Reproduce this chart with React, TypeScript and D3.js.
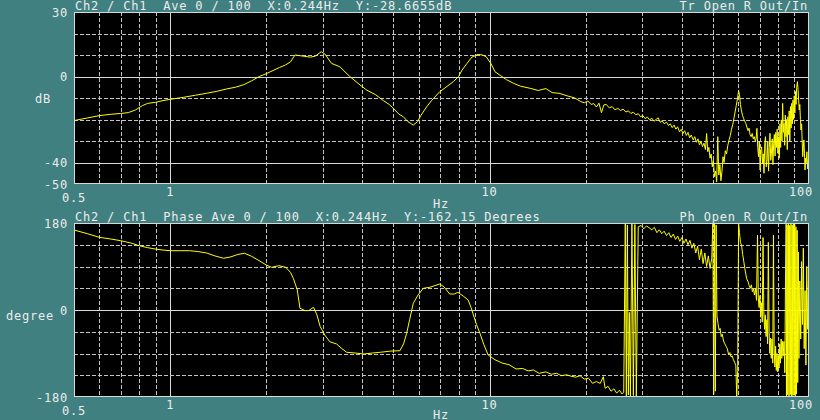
import React from 'react';
import * as d3 from 'd3';

// magnitude (dB) readings, [Hz, dB]
const magSmooth: [number, number][] = [
  [0.5, -20.5], [0.55, -19.3], [0.6, -18.2], [0.65, -17.6], [0.7, -17.2], [0.74, -16.8],
  [0.78, -15.5], [0.82, -13.5], [0.85, -12.5], [0.9, -12], [0.95, -11.2], [1.0, -10.6],
  [1.1, -9.7], [1.2, -8.7], [1.3, -7.8], [1.4, -6.9], [1.5, -5.8], [1.6, -5], [1.7, -3.8],
  [1.8, -2], [1.9, 0], [2.0, 1.3], [2.1, 2.8], [2.2, 4.2], [2.3, 5.4], [2.38, 6.8],
  [2.46, 10], [2.6, 9.5], [2.75, 9.0], [2.85, 9.5], [2.97, 11.5], [3.05, 10.5], [3.2, 6.1],
  [3.4, 4.5], [3.65, 0], [3.9, -3.5], [4.12, -6.3], [4.4, -8.5], [4.65, -11.2], [4.85, -13],
  [5.06, -15.6], [5.2, -17.5], [5.37, -18.7], [5.55, -21], [5.77, -22.6], [5.95, -21],
  [6.1, -18], [6.36, -14], [6.6, -11], [6.98, -7.1], [7.3, -5], [7.7, -2.4], [8.0, 0],
  [8.2, 3], [8.5, 6.1], [8.8, 9], [9.2, 10.3], [9.5, 10], [9.76, 9.2], [10.1, 6], [10.4, 2.2],
  [10.8, 0.5], [11.3, -1.5], [11.9, -3.2], [12.5, -4.5], [13.4, -5.5], [14.2, -6.5],
  [15.0, -5.6], [15.7, -7.5], [16.5, -7.8], [17.5, -9], [18.5, -10],
];

const magNoisy: [number, number][] = [
  [19.3, -11.7], [19.8, -12.2], [20.3, -11.4], [20.8, -13.0], [21.2, -12.6], [21.6, -14.2],
  [22.0, -12.4], [22.4, -16.8], [22.8, -13.2], [23.2, -13.0], [23.7, -14.6], [24.2, -14.0],
  [24.7, -15.5], [25.2, -14.8], [25.7, -15.8], [26.2, -15.2], [26.7, -16.5], [27.2, -16.0],
  [27.7, -17.2], [28.2, -16.6], [28.7, -17.8], [29.2, -17.3], [29.7, -18.7], [30.2, -18.2],
  [30.7, -19.6], [31.2, -18.9], [31.7, -20.2], [32.2, -19.4], [32.7, -20.8], [33.2, -20.0],
  [33.7, -19.2], [34.2, -21.3], [34.7, -20.6], [35.2, -22.0], [35.8, -21.2], [36.3, -22.8],
  [36.8, -22.0], [37.3, -23.8], [37.8, -22.6], [38.3, -24.5], [38.8, -23.4], [39.3, -25.7],
  [39.8, -24.6], [40.3, -26.5], [40.8, -25.2], [41.3, -27.4], [41.8, -26.0], [42.3, -28.5],
  [42.8, -27.2], [43.4, -29.5], [43.9, -28.0], [44.4, -30.6], [44.9, -29.0], [45.4, -31.8],
  [45.9, -30.2], [46.4, -32.6], [46.9, -31.0], [47.4, -34.0], [47.8, -26.5], [48.2, -35.0],
  [48.6, -33.0], [49.0, -38.0], [49.4, -36.0], [49.8, -42.0], [50.2, -39.0], [50.6, -46.6],
  [51.0, -44.0], [51.4, -49.0], [51.8, -28.0], [52.2, -45.8], [52.6, -41.0], [53.0, -48.5],
  [53.4, -44.0], [53.8, -37.3], [54.2, -40.0], [54.7, -34.5], [55.2, -36.0], [55.7, -32.0],
  [56.2, -29.5], [56.7, -27.5], [57.2, -24.5], [57.7, -22.5], [58.2, -19.5], [58.7, -16.5],
  [59.2, -13.5], [59.7, -10.5], [60.2, -6.6], [60.6, -8.5], [61.0, -13.0], [61.4, -15.6],
  [61.9, -18.0], [62.4, -19.5], [62.9, -20.8], [63.4, -21.8], [63.9, -23.5], [64.4, -25.2],
  [64.9, -24.0], [65.4, -27.0], [65.9, -28.0], [66.4, -26.5], [66.9, -29.0], [67.4, -28.0],
  [67.9, -30.0], [68.3, -29.0], [68.7, -24.1], [69.1, -33.0], [69.5, -37.3], [69.9, -30.0],
  [70.3, -43.5], [70.7, -34.0], [71.1, -32.7], [71.5, -40.4], [71.9, -36.0], [72.3, -45.0],
  [72.7, -31.0], [73.1, -28.0], [73.5, -42.0], [73.9, -38.8], [74.3, -30.0], [74.7, -44.0],
  [75.1, -33.0], [75.5, -26.4], [75.9, -39.0], [76.3, -35.7], [76.7, -29.0], [77.1, -41.0],
  [77.5, -31.0], [77.9, -27.0], [78.3, -37.0], [78.7, -26.0], [79.1, -33.0], [79.5, -24.5],
  [79.9, -35.7], [80.3, -28.0], [80.7, -38.0], [81.1, -22.0], [81.5, -33.0], [81.9, -20.2],
  [82.3, -30.0], [82.7, -12.5], [83.1, -26.0], [83.5, -21.8], [83.9, -32.0], [84.3, -18.0],
  [84.7, -28.0], [85.1, -20.0], [85.5, -34.0], [85.9, -18.7], [86.3, -27.0], [86.7, -16.0],
  [87.1, -30.0], [87.5, -14.0], [87.9, -24.0], [88.3, -12.5], [88.7, -22.0], [89.1, -11.0],
  [89.5, -20.0], [89.9, -9.0], [90.3, -17.0], [90.7, -7.0], [91.1, -13.0], [91.5, -5.0],
  [92.0, -2.4], [92.4, -6.0], [92.8, -11.0], [93.2, -15.6], [93.6, -13.0], [94.0, -20.0],
  [94.4, -24.9], [94.8, -22.0], [95.2, -30.0], [95.6, -37.3], [96.0, -33.0], [96.4, -29.5],
  [96.8, -36.0], [97.2, -43.5], [97.6, -38.0], [98.0, -40.0], [98.5, -35.0], [99.0, -43.0],
  [99.5, -39.0], [100, -41.0],
];

// phase (degree) readings, [Hz, deg]
const phaseSmooth: [number, number][] = [
  [0.5, 165.5], [0.55, 158], [0.6, 150.4], [0.65, 147], [0.7, 143.4], [0.75, 139], [0.8, 133],
  [0.85, 129], [0.9, 126], [0.95, 124], [1.0, 122.7], [1.08, 122.7], [1.15, 122.7], [1.22, 121],
  [1.3, 118], [1.38, 112], [1.47, 107], [1.55, 110], [1.63, 115], [1.71, 117.3], [1.8, 111],
  [1.9, 102], [2.0, 93], [2.08, 88.3], [2.19, 91.7], [2.3, 88.3], [2.38, 78], [2.43, 65.6],
  [2.5, 41.4], [2.55, 3.5], [2.65, -1.4], [2.72, -1.0], [2.81, 5.6], [2.88, -10], [2.95, -34.5],
  [3.05, -52], [3.16, -65.6], [3.32, -70.4], [3.45, -80], [3.57, -87.5], [3.8, -89], [4.04, -91],
  [4.3, -89], [4.55, -87.5], [4.9, -85], [5.24, -84.2], [5.38, -70], [5.5, -48.2], [5.62, -20],
  [5.77, 13.9], [5.97, 31], [6.2, 44.9], [6.5, 47], [6.98, 53.8], [7.2, 48], [7.5, 33.1],
  [7.75, 33], [7.96, 36.6], [8.3, 28], [8.57, 20.7], [8.75, 5], [8.9, -10.3], [9.1, -30],
  [9.33, -48.2], [9.6, -72], [9.9, -93.1], [10.4, -103], [11.0, -110.3], [11.5, -113],
  [12.1, -122], [12.7, -121], [13.2, -126], [13.7, -124], [14.3, -131], [15.0, -128],
  [15.6, -133], [16.2, -131], [16.8, -136], [17.4, -134], [18.0, -137], [18.6, -139],
  [19.2, -136], [19.8, -143], [20.4, -141], [21.0, -151.7], [21.6, -148], [22.2, -152],
  [22.7, -138], [23.0, -162], [23.5, -158], [24.0, -168], [24.5, -163], [25.0, -172],
  [25.5, -166], [26.0, -174], [26.3, -170],
];

const phaseNoisy: [number, number][] = [
  [26.6, 178], [26.8, -178], [27.0, 176], [27.2, -176], [27.4, -5], [27.6, -178], [27.9, 178],
  [28.2, -177], [28.5, 177], [28.8, -179], [29.2, 172], [29.8, 175], [30.4, 168], [31.0, 174],
  [31.6, 170], [32.2, 166], [32.8, 171], [33.4, 160], [34.0, 166], [34.6, 158], [35.2, 163],
  [35.8, 154], [36.4, 160], [37.0, 150], [37.6, 157], [38.2, 146], [38.8, 153], [39.4, 142],
  [40.0, 150], [40.6, 138], [41.2, 147], [41.8, 135], [42.4, 144], [43.0, 128], [43.6, 138],
  [44.2, 118], [44.8, 132], [45.4, 104], [46.0, 126], [46.6, 96], [47.2, 118], [47.8, 90],
  [48.4, 112], [49.0, 86], [49.6, 107], [50.0, 179], [50.3, -175], [50.6, 178], [50.9, -168],
  [51.2, 176], [51.5, -12], [51.9, -28], [52.3, -42], [52.7, -38], [53.1, -55], [53.5, -50],
  [54.0, -64], [54.5, -70], [55.0, -75], [55.5, -80], [56.0, -92], [56.5, -88], [57.0, -97],
  [57.5, -95], [58.0, -103], [58.5, -108], [59.0, -115], [59.4, -178], [59.8, -125],
  [60.2, 178], [60.6, 160], [61.0, 140], [61.5, 134], [62.0, 115], [62.5, 100], [63.0, 85],
  [63.8, 65], [64.5, 58], [65.0, 50], [65.5, 45], [66.0, 52], [66.5, 38], [67.0, 44],
  [67.5, 31], [68.0, 45], [68.5, 20], [69.0, 155], [69.4, 25], [69.8, 5], [70.2, 30],
  [70.6, -15], [71.0, 15], [71.4, -25], [71.8, 150], [72.2, -3.5], [72.6, -40], [73.0, -10],
  [73.4, -55], [73.8, -20], [74.2, -70], [74.6, 140], [75.0, -45], [75.4, -90], [75.8, -58],
  [76.2, -100], [76.6, -60], [77.0, -110], [77.4, 155], [77.8, -80], [78.2, -118], [78.6, -75],
  [79.0, -125], [79.4, -90], [79.8, -128], [80.2, -95], [80.6, -120], [81.0, -70], [81.4, -110],
  [81.8, -60], [82.2, -100], [82.6, -65], [83.0, -95], [83.5, -65], [84.0, -130], [84.4, 60],
  [84.8, 178], [85.0, -178], [85.4, 176], [85.8, -176], [86.2, 178], [86.6, -179], [87.0, 175],
  [87.4, -175], [87.8, 179], [88.2, -178], [88.6, 176], [89.0, -177], [89.4, 178], [89.8, -176],
  [90.2, 177], [90.6, -178], [91.0, 172], [91.4, -174], [91.8, 165], [92.2, -150], [92.6, 120],
  [93.0, -100], [93.6, 60], [94.2, -60], [94.8, 100], [95.4, -30], [96.0, 128], [96.6, -80],
  [97.2, 40], [97.8, -114], [98.4, 90], [99.0, -40], [99.6, 60], [100, -20],
];

const freqGrid = [0.6, 0.7, 0.8, 0.9, 1, 2, 3, 4, 5, 6, 7, 8, 9, 10, 20, 30, 40, 50, 60, 70, 80, 90];
const freqMajor = [1, 10];
const freqLabels = [
  { f: 0.5, text: '0.5', low: true },
  { f: 1, text: '1', low: false },
  { f: 10, text: '10', low: false },
  { f: 100, text: '100', low: false },
];
const magGrid = [20, 10, 0, -10, -20, -30, -40];
const magMajor = [0, -40];
const magLabels = [30, 0, -40, -50];
const phaseGrid = [135, 90, 45, 0, -45, -90, -135];
const phaseMajor = [0];
const phaseLabels = [180, 0, -180];

const BG = '#408080';
const TXT = '#ececec';
const GRID = '#c4c4c4';
const LINE = '#ffff00';
const FONT = '"DejaVu Sans Mono", monospace';

const X0 = 74;
const X1 = 809;

const x = d3.scaleLog().domain([0.5, 100]).range([X0, X1]);

interface PanelProps {
  id: string;
  top: number;
  bottom: number;
  domain: [number, number];
  grid: number[];
  major: number[];
  labels: number[];
  data: [number, number][];
  header: string;
  rightHeader: string;
  unit: string;
  unitX: number;
  unitBaseline: number;
  hzBaseline: number;
}

const px = (v: number) => Math.round(v) + 0.5;

const Panel: React.FC<PanelProps> = (p) => {
  const y = d3.scaleLinear().domain(p.domain).range([p.bottom, p.top]);
  const line = d3.line<[number, number]>()
    .x(d => x(d[0]))
    .y(d => y(d[1]));
  const textProps = {
    fill: TXT, fontFamily: FONT, fontSize: 12, letterSpacing: 0.8,
    style: { whiteSpace: 'pre' as const },
  };

  return (
    <g>
      <defs>
        <clipPath id={`clip-${p.id}`}>
          <rect x={X0} y={p.top} width={X1 - X0} height={p.bottom - p.top} />
        </clipPath>
      </defs>
      <rect x={X0} y={p.top} width={X1 - X0} height={p.bottom - p.top} fill="#000" />

      {/* vertical grid */}
      {freqGrid.map(f => (
        <line key={`v${f}`} x1={px(x(f))} x2={px(x(f))} y1={p.top} y2={p.bottom}
          stroke={freqMajor.includes(f) ? '#d8d8d8' : GRID}
          strokeDasharray={freqMajor.includes(f) ? undefined : '4,2'}
          shapeRendering="crispEdges" />
      ))}
      {/* horizontal grid */}
      {p.grid.map(v => (
        <line key={`h${v}`} x1={X0} x2={X1} y1={px(y(v))} y2={px(y(v))}
          stroke={p.major.includes(v) ? '#d8d8d8' : GRID}
          strokeDasharray={p.major.includes(v) ? undefined : '4,2'}
          shapeRendering="crispEdges" />
      ))}

      <path d={line(p.data) ?? ''} fill="none" stroke={LINE} strokeWidth={1}
        clipPath={`url(#clip-${p.id})`} />

      <rect x={X0 + 0.5} y={p.top + 0.5} width={X1 - X0 - 1} height={p.bottom - p.top - 1}
        fill="none" stroke="#d8d8d8" shapeRendering="crispEdges" />

      {/* header */}
      <text x={75} y={p.top - 2} {...textProps}>{p.header}</text>
      <text x={808} y={p.top - 2} textAnchor="end" {...textProps}>{p.rightHeader}</text>

      {/* y labels */}
      {p.labels.map(v => (
        <text key={`yl${v}`} x={68} y={y(v) + 4.5} textAnchor="end" {...textProps}>
          {String(v)}
        </text>
      ))}
      <text x={p.unitX} y={p.unitBaseline} {...textProps}>{p.unit}</text>

      {/* x labels */}
      {freqLabels.map(l => (
        <text key={`xl${l.text}`}
          x={l.f === 100 ? 801 : x(l.f)}
          y={p.bottom + (l.low ? 18 : 12)}
          textAnchor="middle" {...textProps}>{l.text}</text>
      ))}
      <text x={441} y={p.hzBaseline} textAnchor="middle" {...textProps}>Hz</text>
    </g>
  );
};

const App: React.FC = () => {
  const magData = [...magSmooth, ...magNoisy];
  const phaseData = [...phaseSmooth, ...phaseNoisy];

  return (
    <svg width={820} height={420} style={{ position: 'absolute', left: 0, top: 0, display: 'block' }}>
      <rect x={0} y={0} width={820} height={420} fill={BG} />
      <Panel
        id="mag" top={12} bottom={184} domain={[-50, 30]}
        grid={magGrid} major={magMajor} labels={magLabels} data={magData}
        header="Ch2 / Ch1  Ave 0 / 100  X:0.244Hz  Y:-28.6655dB"
        rightHeader="Tr Open R Out/In"
        unit="dB" unitX={35} unitBaseline={103} hzBaseline={208}
      />
      <Panel
        id="phase" top={223} bottom={397} domain={[-180, 180]}
        grid={phaseGrid} major={phaseMajor} labels={phaseLabels} data={phaseData}
        header="Ch2 / Ch1  Phase Ave 0 / 100  X:0.244Hz  Y:-162.15 Degrees"
        rightHeader="Ph Open R Out/In"
        unit="degree" unitX={6} unitBaseline={320} hzBaseline={418.5}
      />
    </svg>
  );
};

export default App;
